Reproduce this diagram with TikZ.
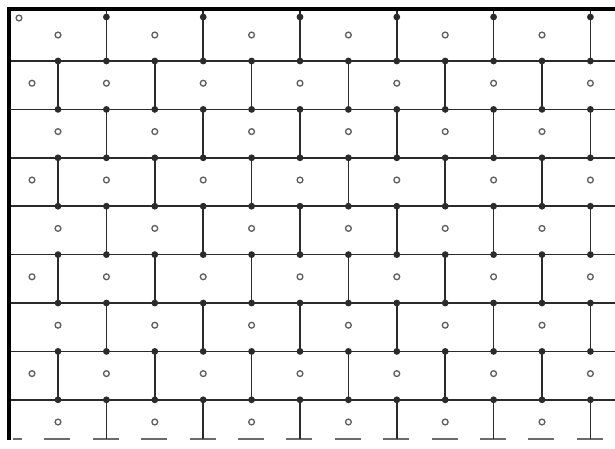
\documentclass[tikz,border=0pt]{standalone}
\usetikzlibrary{calc}
\definecolor{inkgray}{HTML}{2B2B2B}
\definecolor{ringgray}{HTML}{5E5E5E}

\begin{document}
\begin{tikzpicture}[
    x=1pt, y=-1pt, % one unit = one pixel of the sheet, y runs down
    gridline/.style={line width=1.7pt, draw=inkgray},
    borderline/.style={line width=3.4pt, draw=black, line join=miter},
    floorline/.style={line width=1.6pt, draw=inkgray!70,
      dash pattern=on 26pt off 22.4pt, dash phase=17pt},
    junction/.style={circle, fill=inkgray, inner sep=0pt, minimum size=6.8pt},
    probe/.style={circle, draw=ringgray, line width=1.3pt, fill=white,
      inner sep=0pt, minimum size=5.8pt},
  ]

  % --- Sheet ---
  \fill[white] (0,0) rectangle (615,448);
  \useasboundingbox (0,0) rectangle (615,448);
  \coordinate (corner) at (9,9);
  \coordinate (farright) at (615,9);
  \coordinate (floor) at (9,440);

  % --- Courses (horizontal joints) ---
  \foreach \j in {0,...,7}
    \draw[gridline] (9,{61+48.4*\j}) -- (615,{61+48.4*\j});

  % --- Open bottom edge ---
  \draw[floorline] (13,439) -- (615,439);

  % --- Head joints, offset every other course ---
  \foreach \r in {1,...,9} {
    \pgfmathsetmacro{\yt}{(\r==1) ? 9 : 61+48.4*(\r-2)}
    \pgfmathsetmacro{\yb}{(\r==9) ? 439 : 61+48.4*(\r-1)}
    \pgfmathsetmacro{\xo}{(mod(\r,2)==1) ? 106.4 : 58}
    \foreach \k in {0,...,5} {
      \pgfmathsetmacro{\xk}{\xo+96.8*\k}
      \draw[gridline] (\xk,\yt) -- (\xk,\yb);
    }
  }

  % --- Frame ---
  \draw[borderline] (floor) -- (corner) -- (farright);

  % --- Junction dots ---
  \foreach \r in {1,...,9} {
    \pgfmathsetmacro{\yt}{(\r==1) ? 17 : 61+48.4*(\r-2)}
    \pgfmathsetmacro{\yb}{61+48.4*(\r-1)}
    \pgfmathsetmacro{\xo}{(mod(\r,2)==1) ? 106.4 : 58}
    \foreach \k in {0,...,5} {
      \pgfmathsetmacro{\xk}{\xo+96.8*\k}
      \node[junction] (jt-\r-\k) at (\xk,\yt) {};
      \ifnum\r<9
        \node[junction] (jb-\r-\k) at (\xk,\yb) {};
      \fi
    }
  }

  % --- Centre marks of the cells ---
  \node[probe] (mark-corner) at (19,18) {};
  \foreach \r in {1,...,9} {
    \pgfmathsetmacro{\yc}{(\r==1) ? 35 : 34.8+48.4*(\r-1)}
    \ifodd\r
      \foreach \k in {0,...,5}
        \node[probe] (mark-\r-\k) at ({58+96.8*\k},\yc) {};
    \else
      \node[probe] (mark-\r-first) at (32,\yc) {};
      \foreach \k in {0,...,5}
        \node[probe] (mark-\r-\k) at ({106.4+96.8*\k},\yc) {};
    \fi
  }
\end{tikzpicture}
\end{document}
